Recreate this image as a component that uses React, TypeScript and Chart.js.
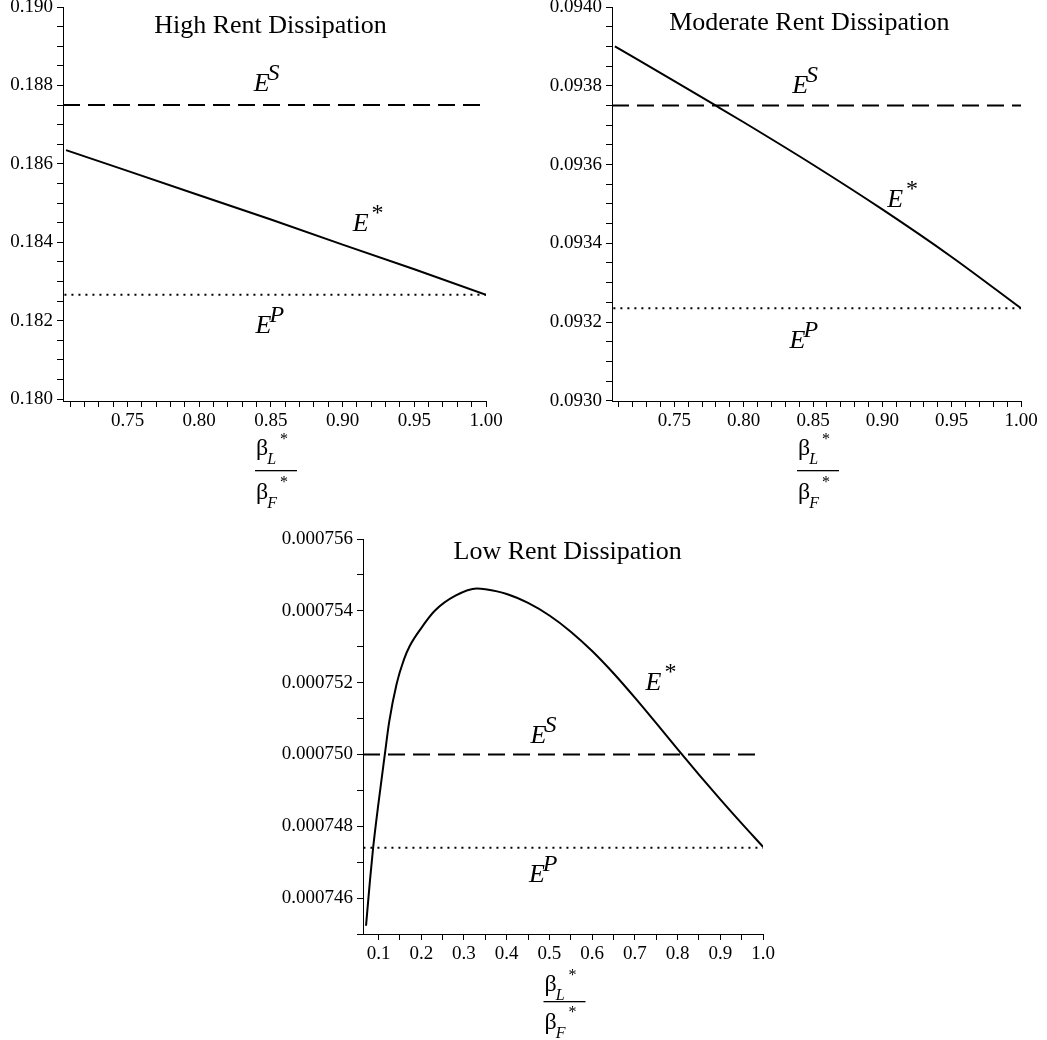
import React, { useEffect, useRef } from 'react';
import { Chart, registerables } from 'chart.js';

Chart.register(...registerables);

const SERIF = '"Liberation Serif", "Times New Roman", Times, serif';

// ---------------- High Rent Dissipation ----------------
const highTitle = 'High Rent Dissipation';
const highX = [0.7071, 0.75, 0.8, 0.85, 0.9, 0.95, 1.0];
const highEStar = [0.18635, 0.18582, 0.1852, 0.18458, 0.18394, 0.18331, 0.18266];
const highES = 0.1875;
const highEP = 0.18266;
const highXTicks = [0.75, 0.8, 0.85, 0.9, 0.95, 1.0];
const highYTicks = [0.18, 0.182, 0.184, 0.186, 0.188, 0.19];

// ---------------- Moderate Rent Dissipation ----------------
const modTitle = 'Moderate Rent Dissipation';
const modX = [0.7071, 0.75, 0.78, 0.8, 0.85, 0.9, 0.95, 1.0];
const modEStar = [0.0939, 0.0938116, 0.0937493, 0.0937073, 0.0935994, 0.093486, 0.0933653, 0.093235];
const modES = 0.09375;
const modEP = 0.093235;
const modXTicks = [0.75, 0.8, 0.85, 0.9, 0.95, 1.0];
const modYTicks = [0.093, 0.0932, 0.0934, 0.0936, 0.0938, 0.094];

// ---------------- Low Rent Dissipation ----------------
const lowTitle = 'Low Rent Dissipation';
const lowX = [
  0.0707, 0.08, 0.0874, 0.1, 0.1147, 0.1248, 0.142, 0.16, 0.173, 0.2, 0.2316, 0.28,
  0.33, 0.35, 0.4, 0.45, 0.5, 0.55, 0.6, 0.65, 0.7, 0.75, 0.8, 0.85, 0.9, 0.95, 1.0,
];
const lowEStar = [
  0.00074523, 0.0007465, 0.00074741, 0.00074866, 0.00075, 0.0007509, 0.00075195, 0.00075266,
  0.00075302, 0.00075352, 0.000754, 0.00075442, 0.00075462, 0.0007546, 0.00075447, 0.00075422,
  0.00075387, 0.00075342, 0.00075288, 0.00075226, 0.00075158, 0.00075087, 0.00075015,
  0.00074944, 0.00074875, 0.00074808, 0.00074743,
];
const lowES = 0.00075;
const lowEP = 0.0007474;
const lowXTicks = [0.1, 0.2, 0.3, 0.4, 0.5, 0.6, 0.7, 0.8, 0.9, 1.0];
const lowYTicks = [0.000746, 0.000748, 0.00075, 0.000752, 0.000754, 0.000756];

type Lbl = { x: number; y: number; sup: string };

type Spec = {
  left: number; top: number; w: number; h: number;
  areaLeft: number; areaRight: number; areaTop: number; areaBottom: number;
  xMin: number; xMax: number; yMin: number; yMax: number;
  xMajor: number[]; xMinorStep: number; xDec: number;
  yMajor: number[]; yMinorStep: number; yDec: number;
  xs: number[]; ys: number[]; es: number; ep: number; smooth: boolean;
  title: string; titleX: number; titleY: number;
  labels: Lbl[];
  frac: { num: number; line: number; den: number };
};

function buildTicks(min: number, max: number, step: number) {
  const out: number[] = [];
  const start = Math.ceil(min / step - 1e-6);
  const end = Math.floor(max / step + 1e-6);
  for (let i = start; i <= end; i++) out.push(+(i * step).toPrecision(10));
  return out;
}

function isMajor(v: number, majors: number[]) {
  return majors.some((m) => Math.abs(m - v) < Math.abs(m) * 1e-7 + 1e-12);
}

const specs: Spec[] = [
  {
    left: 0, top: 0, w: 520, h: 515,
    areaLeft: 63, areaRight: 486, areaTop: 7, areaBottom: 401,
    xMin: 0.705, xMax: 1.0, yMin: 0.17995, yMax: 0.19,
    xMajor: highXTicks, xMinorStep: 0.01, xDec: 2,
    yMajor: highYTicks, yMinorStep: 0.0005, yDec: 3,
    xs: highX, ys: highEStar, es: highES, ep: highEP, smooth: false,
    title: highTitle, titleX: 0.8497, titleY: 0.18934,
    labels: [
      { x: 0.838, y: 0.18785, sup: 'S' },
      { x: 0.907, y: 0.18429, sup: '*' },
      { x: 0.8393, y: 0.18168, sup: 'P' },
    ],
    frac: { num: 54, line: 69, den: 98 },
  },
  {
    left: 520, top: 0, w: 527, h: 515,
    areaLeft: 92, areaRight: 501, areaTop: 7, areaBottom: 401,
    xMin: 0.705, xMax: 1.0, yMin: 0.0929995, yMax: 0.094,
    xMajor: modXTicks, xMinorStep: 0.01, xDec: 2,
    yMajor: modYTicks, yMinorStep: 0.00005, yDec: 4,
    xs: modX, ys: modEStar, es: modES, ep: modEP, smooth: true,
    title: modTitle, titleX: 0.8473, titleY: 0.093941,
    labels: [
      { x: 0.835, y: 0.093782, sup: 'S' },
      { x: 0.9035, y: 0.093493, sup: '*' },
      { x: 0.8331, y: 0.093133, sup: 'P' },
    ],
    frac: { num: 54, line: 69, den: 98 },
  },
  {
    left: 260, top: 520, w: 540, h: 520,
    areaLeft: 103, areaRight: 503, areaTop: 19, areaBottom: 414,
    xMin: 0.0636, xMax: 1.0, yMin: 0.000745, yMax: 0.000756,
    xMajor: lowXTicks, xMinorStep: 0.05, xDec: 1,
    yMajor: lowYTicks, yMinorStep: 0.000001, yDec: 6,
    xs: lowX, ys: lowEStar, es: lowES, ep: lowEP, smooth: true,
    title: lowTitle, titleX: 0.5426, titleY: 0.00075545,
    labels: [
      { x: 0.456, y: 0.00075032, sup: 'S' },
      { x: 0.725, y: 0.00075179, sup: '*' },
      { x: 0.452, y: 0.00074645, sup: 'P' },
    ],
    frac: { num: 57, line: 67, den: 95 },
  },
];

function makePlugin(s: Spec) {
  return {
    id: 'annot',
    afterDraw(chart: any) {
      const { ctx, chartArea, scales } = chart;
      const xs = scales.x;
      const ys = scales.y;
      ctx.save();
      ctx.fillStyle = '#000';
      ctx.textBaseline = 'alphabetic';
      // title
      ctx.font = `26px ${SERIF}`;
      ctx.textAlign = 'center';
      ctx.fillText(s.title, xs.getPixelForValue(s.titleX), ys.getPixelForValue(s.titleY));
      // curve labels
      ctx.textAlign = 'left';
      for (const l of s.labels) {
        const px = xs.getPixelForValue(l.x);
        const py = ys.getPixelForValue(l.y);
        ctx.font = `italic 26px ${SERIF}`;
        ctx.fillText('E', px, py);
        const w = ctx.measureText('E').width;
        if (l.sup === '*') {
          ctx.font = `24px ${SERIF}`;
          ctx.fillText('*', px + w + 3, py - 11);
        } else {
          ctx.font = `italic 24px ${SERIF}`;
          ctx.fillText(l.sup, px + w - 2, py - 11);
        }
      }
      // x-axis title: fraction beta_L* / beta_F*
      const cx = (chartArea.left + chartArea.right) / 2 + 1.5;
      const base = chartArea.bottom;
      const bx = cx - 20;
      const drawBeta = (sub: string, y: number, starY: number) => {
        ctx.font = `24px ${SERIF}`;
        ctx.fillText('β', bx, y);
        const bw = ctx.measureText('β').width;
        ctx.font = `italic 16px ${SERIF}`;
        ctx.fillText(sub, bx + bw - 1, y + 9);
        ctx.font = `16px ${SERIF}`;
        ctx.fillText('*', cx + 4, starY);
      };
      drawBeta('L', base + s.frac.num, base + s.frac.num - 11);
      ctx.fillRect(cx - 21, base + s.frac.line, 42, 1.3);
      drawBeta('F', base + s.frac.den, base + s.frac.den - 12);
      ctx.restore();
    },
  };
}

function buildConfig(s: Spec): any {
  const curve = s.xs.map((x, i) => ({ x, y: s.ys[i] }));
  const xTicks = buildTicks(s.xMin, s.xMax, s.xMinorStep);
  const yTicks = buildTicks(s.yMin, s.yMax, s.yMinorStep);
  const tickFont = { family: SERIF, size: 19 };
  return {
    type: 'line',
    data: {
      datasets: [
        {
          label: 'ES',
          data: [{ x: s.xMin, y: s.es }, { x: s.xMax, y: s.es }],
          borderColor: '#000', borderWidth: 2, borderDash: [17, 8], pointRadius: 0,
        },
        {
          label: 'EP',
          data: [{ x: s.xMin + 0.001, y: s.ep }, { x: s.xMax, y: s.ep }],
          borderColor: '#000', borderWidth: 2, borderDash: [2, 5], pointRadius: 0,
        },
        {
          label: 'E*',
          data: curve,
          borderColor: '#000', borderWidth: 2, pointRadius: 0,
          cubicInterpolationMode: s.smooth ? 'monotone' : 'default',
          tension: 0,
        },
      ],
    },
    options: {
      animation: false,
      responsive: false,
      devicePixelRatio: 1,
      events: [],
      layout: {
        padding: { left: 0, top: s.areaTop, right: s.w - s.areaRight, bottom: 0 },
      },
      plugins: { legend: { display: false }, tooltip: { enabled: false }, title: { display: false } },
      scales: {
        x: {
          type: 'linear',
          min: s.xMin,
          max: s.xMax,
          afterBuildTicks: (sc: any) => {
            sc.ticks = xTicks.map((v) => ({ value: v }));
          },
          afterFit: (sc: any) => {
            sc.height = s.h - s.areaBottom;
            sc.paddingLeft = 0;
            sc.paddingRight = 0;
          },
          ticks: {
            autoSkip: false,
            maxRotation: 0,
            minRotation: 0,
            padding: 3,
            color: '#000',
            font: tickFont,
            callback: (v: number) => (isMajor(v, s.xMajor) ? v.toFixed(s.xDec) : ''),
          },
          grid: { display: true, drawOnChartArea: false, drawTicks: true, tickLength: 6, color: '#000', tickColor: '#000' },
          border: { display: true, color: '#000', width: 1 },
        },
        y: {
          type: 'linear',
          min: s.yMin,
          max: s.yMax,
          afterBuildTicks: (sc: any) => {
            sc.ticks = yTicks.map((v) => ({ value: v }));
          },
          afterFit: (sc: any) => {
            sc.width = s.areaLeft;
            sc.paddingTop = 0;
            sc.paddingBottom = 0;
          },
          ticks: {
            autoSkip: false,
            padding: 4,
            color: '#000',
            font: tickFont,
            callback: (v: number) => (isMajor(v, s.yMajor) ? v.toFixed(s.yDec) : ''),
          },
          grid: { display: true, drawOnChartArea: false, drawTicks: true, tickLength: 6, color: '#000', tickColor: '#000' },
          border: { display: true, color: '#000', width: 1 },
        },
      },
    },
    plugins: [makePlugin(s)],
  };
}

function Panel({ spec }: { spec: Spec }) {
  const ref = useRef<HTMLCanvasElement>(null);
  useEffect(() => {
    if (!ref.current) return;
    const chart = new Chart(ref.current, buildConfig(spec));
    return () => chart.destroy();
  }, [spec]);
  return (
    <canvas
      ref={ref}
      width={spec.w}
      height={spec.h}
      style={{ position: 'absolute', left: spec.left, top: spec.top, width: spec.w, height: spec.h }}
    />
  );
}

export default function App() {
  return (
    <div
      style={{
        position: 'absolute', left: 0, top: 0, width: 1047, height: 1040,
        overflow: 'hidden', background: '#fff',
      }}
    >
      {specs.map((s, i) => (
        <Panel key={i} spec={s} />
      ))}
    </div>
  );
}
